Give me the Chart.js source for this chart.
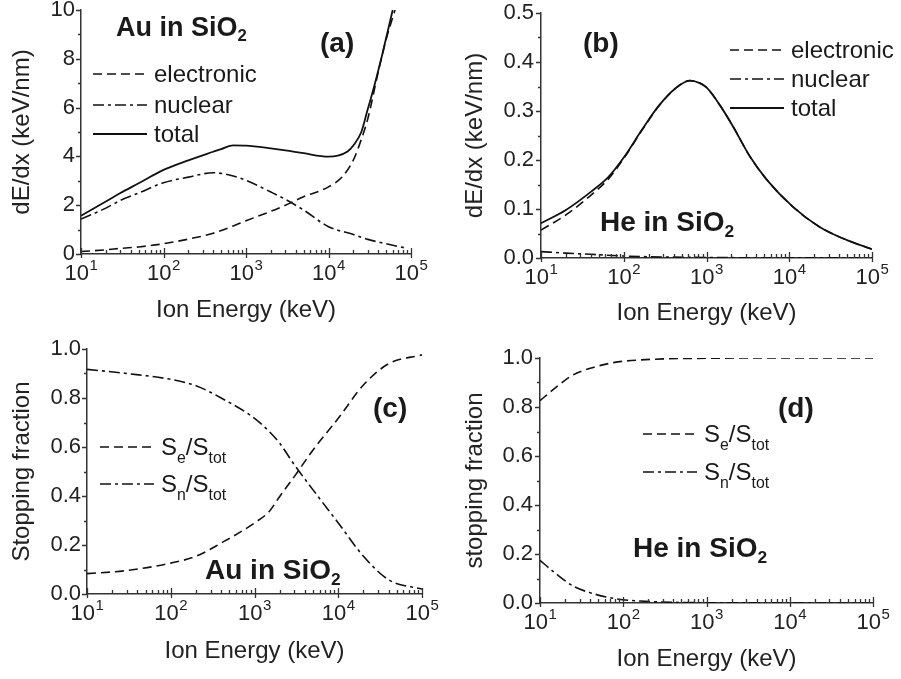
<!DOCTYPE html>
<html>
<head>
<meta charset="utf-8">
<script src="https://cdn.jsdelivr.net/npm/chart.js@4.4.0/dist/chart.umd.min.js"></script>
<style>
  body { margin: 0; background: #fff; }
  #wrap { position: relative; width: 901px; height: 679px; overflow: hidden;
          font-family: "Liberation Sans", Arial, sans-serif; color: #1a1a1a; }
  canvas { position: absolute; }
  .lbl { position: absolute; white-space: nowrap; transform: translateY(-50%); line-height: 1; font-weight: bold; }
  .leg { position: absolute; display: flex; align-items: center; white-space: nowrap; font-size: 24px;
         transform: translateY(-50%); line-height: 1; }
  .leg svg { margin-right: 7px; flex: none; }
  sub { font-size: 62%; vertical-align: -0.32em; line-height: 0; }
  .leg sub { font-size: 66%; vertical-align: -0.5em; }
</style>
</head>
<body>
<div id="wrap">
  <canvas id="chart-a" width="450" height="330" style="left:0;top:0"></canvas>
  <canvas id="chart-b" width="451" height="330" style="left:450px;top:0"></canvas>
  <canvas id="chart-c" width="450" height="349" style="left:0;top:330px"></canvas>
  <canvas id="chart-d" width="451" height="349" style="left:450px;top:330px"></canvas>

  <!-- (a) -->
  <div class="lbl" style="left:116px;top:27px;font-size:27px">Au in SiO<sub>2</sub></div>
  <div class="lbl" style="left:320px;top:43px;font-size:28px">(a)</div>
  <div class="leg" style="left:93px;top:74px"><svg width="54" height="4"><line x1="0" y1="2" x2="54" y2="2" stroke="#111" stroke-width="1.6" stroke-dasharray="9 5"/></svg><span>electronic</span></div>
  <div class="leg" style="left:93px;top:105px"><svg width="54" height="4"><line x1="0" y1="2" x2="54" y2="2" stroke="#111" stroke-width="1.6" stroke-dasharray="11 4 3 4"/></svg><span>nuclear</span></div>
  <div class="leg" style="left:93px;top:134px"><svg width="54" height="4"><line x1="0" y1="2" x2="54" y2="2" stroke="#111" stroke-width="1.8"/></svg><span>total</span></div>

  <!-- (b) -->
  <div class="lbl" style="left:583px;top:43px;font-size:28px">(b)</div>
  <div class="lbl" style="left:600px;top:222px;font-size:28px">He in SiO<sub>2</sub></div>
  <div class="leg" style="left:730px;top:50px"><svg width="54" height="4"><line x1="0" y1="2" x2="54" y2="2" stroke="#111" stroke-width="1.6" stroke-dasharray="9 5"/></svg><span>electronic</span></div>
  <div class="leg" style="left:730px;top:79px"><svg width="54" height="4"><line x1="0" y1="2" x2="54" y2="2" stroke="#111" stroke-width="1.6" stroke-dasharray="11 4 3 4"/></svg><span>nuclear</span></div>
  <div class="leg" style="left:730px;top:108px"><svg width="54" height="4"><line x1="0" y1="2" x2="54" y2="2" stroke="#111" stroke-width="1.8"/></svg><span>total</span></div>

  <!-- (c) -->
  <div class="lbl" style="left:373px;top:408px;font-size:28px">(c)</div>
  <div class="lbl" style="left:205px;top:570px;font-size:28px">Au in SiO<sub>2</sub></div>
  <div class="leg" style="left:100px;top:447px"><svg width="54" height="4"><line x1="0" y1="2" x2="54" y2="2" stroke="#111" stroke-width="1.6" stroke-dasharray="9 5"/></svg><span>S<sub>e</sub>/S<sub>tot</sub></span></div>
  <div class="leg" style="left:100px;top:484px"><svg width="54" height="4"><line x1="0" y1="2" x2="54" y2="2" stroke="#111" stroke-width="1.6" stroke-dasharray="11 4 3 4"/></svg><span>S<sub>n</sub>/S<sub>tot</sub></span></div>

  <!-- (d) -->
  <div class="lbl" style="left:778px;top:408px;font-size:28px">(d)</div>
  <div class="lbl" style="left:633px;top:548px;font-size:28px">He in SiO<sub>2</sub></div>
  <div class="leg" style="left:643px;top:434px"><svg width="54" height="4"><line x1="0" y1="2" x2="54" y2="2" stroke="#111" stroke-width="1.6" stroke-dasharray="9 5"/></svg><span>S<sub>e</sub>/S<sub>tot</sub></span></div>
  <div class="leg" style="left:643px;top:472px"><svg width="54" height="4"><line x1="0" y1="2" x2="54" y2="2" stroke="#111" stroke-width="1.6" stroke-dasharray="11 4 3 4"/></svg><span>S<sub>n</sub>/S<sub>tot</sub></span></div>
</div>

<script>
/* ── data (energies in keV) ── */

// (a) Au in SiO2, dE/dx (keV/nm)
const auElecE = [10, 20, 30, 50, 100, 200, 400, 700, 1000, 2000, 3000, 5000, 10000, 15000, 20000, 25000, 30000, 40000, 50000, 64000];
const auElec  = [0.1, 0.17, 0.23, 0.29, 0.42, 0.61, 0.85, 1.15, 1.36, 1.75, 2.0, 2.35, 2.75, 3.2, 3.85, 4.7, 5.55, 7.45, 8.8, 10.0];
const auNuclE = [10, 20, 30, 50, 100, 200, 400, 700, 1000, 2000, 3000, 5000, 10000, 20000, 30000, 50000, 90000];
const auNucl  = [1.43, 1.88, 2.2, 2.5, 2.92, 3.15, 3.33, 3.2, 3.02, 2.54, 2.24, 1.8, 1.12, 0.8, 0.6, 0.42, 0.23];
const auTotE  = [10, 20, 30, 50, 100, 200, 400, 500, 700, 1000, 2000, 3000, 5000, 10000, 13000, 17000, 20000, 25000, 30000, 35000, 45000, 60000];
const auTot   = [1.57, 2.15, 2.5, 2.9, 3.45, 3.84, 4.19, 4.3, 4.45, 4.44, 4.33, 4.25, 4.13, 3.99, 4.03, 4.2, 4.45, 5.0, 5.95, 6.75, 8.2, 10.0];

// (b) He in SiO2, dE/dx (keV/nm)
const heTotE  = [10, 20, 40, 65, 100, 165, 260, 420, 630, 830, 1000, 1450, 2100, 3350, 5400, 11000, 23000, 49000, 100000];
const heTot   = [0.071, 0.098, 0.135, 0.165, 0.205, 0.261, 0.309, 0.346, 0.362, 0.357, 0.348, 0.312, 0.268, 0.207, 0.159, 0.105, 0.064, 0.037, 0.018];
const heElec  = [0.057, 0.088, 0.128, 0.161, 0.203, 0.26, 0.308, 0.346, 0.362, 0.357, 0.348, 0.312, 0.268, 0.207, 0.159, 0.105, 0.064, 0.037, 0.018];
const heNuclE = [10, 20, 40, 100, 300, 1000, 10000, 100000];
const heNucl  = [0.013, 0.01, 0.0075, 0.004, 0.002, 0.001, 0.0003, 0.0001];

// (c) Au in SiO2, stopping fractions
const auFracE = [10, 30, 100, 200, 400, 1000, 1500, 2000, 3000, 5000, 10000, 20000, 40000, 100000];
const auSe    = [0.083, 0.096, 0.126, 0.154, 0.208, 0.29, 0.337, 0.398, 0.48, 0.588, 0.717, 0.853, 0.94, 0.976];
const auSn    = [0.917, 0.9, 0.876, 0.85, 0.8, 0.717, 0.663, 0.615, 0.527, 0.425, 0.29, 0.154, 0.058, 0.02];

// (d) He in SiO2, stopping fractions
const heFracE = [10, 15, 25, 40, 76, 160, 1000, 10000, 100000];
const heSe    = [0.826, 0.876, 0.931, 0.958, 0.981, 0.992, 0.999, 1.0, 1.0];
const heSn    = [0.174, 0.124, 0.069, 0.042, 0.019, 0.008, 0.001, 0.0003, 0.0001];

// ticks
const xDecades  = [10, 100, 1000, 10000, 100000];
const xExpLabel = ['1', '2', '3', '4', '5'];
const yTicksA   = [0, 2, 4, 6, 8, 10];
const yTicksB   = [0, 0.1, 0.2, 0.3, 0.4, 0.5];
const yTicksCD  = [0, 0.2, 0.4, 0.6, 0.8, 1.0];

const FONT = '"Liberation Sans", Arial, sans-serif';
const INK = '#222';
const DASH = [9, 5];
const DASHDOT = [11, 4, 3, 4];

// minor/major tick marks and 10^n labels, drawn off the chart's own scales
const tickMarks = {
  id: 'tickMarks',
  afterDraw(chart) {
    const { ctx } = chart;
    const xs = chart.scales.x, ys = chart.scales.y;
    const b = ys.bottom, l = xs.left;
    ctx.save();
    ctx.strokeStyle = '#333';
    ctx.lineWidth = 1.3;
    ctx.beginPath();
    xDecades.forEach((d, i) => {
      const px = Math.round(xs.getPixelForValue(d)) + 0.5;
      ctx.moveTo(px, b - 6); ctx.lineTo(px, b + 4);
      if (i < xDecades.length - 1) {
        for (let k = 2; k < 10; k++) {
          const p = Math.round(xs.getPixelForValue(d * k)) + 0.5;
          ctx.moveTo(p, b - 4); ctx.lineTo(p, b);
        }
      }
    });
    const yt = chart.options.plugins.tickMarks.yTicks;
    yt.forEach((v, i) => {
      const py = Math.round(ys.getPixelForValue(v)) + 0.5;
      ctx.moveTo(l - 5, py); ctx.lineTo(l, py);
      if (i < yt.length - 1) {
        const pm = Math.round(ys.getPixelForValue((v + yt[i + 1]) / 2)) + 0.5;
        ctx.moveTo(l - 3, pm); ctx.lineTo(l, pm);
      }
    });
    ctx.stroke();

    // 10^n labels
    ctx.fillStyle = INK;
    ctx.textBaseline = 'middle';
    ctx.textAlign = 'left';
    const yc = b + 20;
    xDecades.forEach((d, i) => {
      const px = xs.getPixelForValue(d);
      ctx.font = '22px ' + FONT;
      const w1 = ctx.measureText('10').width;
      ctx.font = '15px ' + FONT;
      const w2 = ctx.measureText(xExpLabel[i]).width;
      const x0 = px - (w1 + w2) / 2;
      ctx.font = '22px ' + FONT;
      ctx.fillText('10', x0, yc);
      ctx.font = '15px ' + FONT;
      ctx.fillText(xExpLabel[i], x0 + w1 + 0.5, yc - 8);
    });
    ctx.restore();
  }
};

function series(xs, ys, dash, w) {
  return {
    data: xs.map((x, i) => ({ x: x, y: ys[i] })),
    borderColor: '#111',
    borderWidth: w || 1.6,
    borderDash: dash || [],
    pointRadius: 0,
    fill: false,
    cubicInterpolationMode: 'monotone'
  };
}

function panel(id, o) {
  const cv = document.getElementById(id);
  const W = cv.width, H = cv.height;
  const lh = 24 * 1.2;
  return new Chart(cv, {
    type: 'line',
    data: { datasets: o.sets },
    options: {
      responsive: false,
      animation: false,
      events: [],
      layout: { padding: { left: 0, top: o.area.t, right: W - o.area.r, bottom: 0 } },
      plugins: {
        legend: { display: false },
        tooltip: { enabled: false },
        tickMarks: { yTicks: o.yTicks }
      },
      scales: {
        x: {
          type: 'logarithmic', min: 10, max: 100000,
          grid: { display: false, drawTicks: false },
          border: { display: true, color: '#333', width: 1.5 },
          ticks: { display: false },
          title: { display: true, text: 'Ion Energy (keV)', color: INK,
                   font: { size: 24, family: FONT }, padding: { top: 0, bottom: H - o.xTitleY - lh / 2 } },
          afterFit: s => { s.height = H - o.area.b; s.paddingLeft = 0; s.paddingRight = 0; }
        },
        y: {
          type: 'linear', min: o.yTicks[0], max: o.yTicks[o.yTicks.length - 1],
          grid: { display: false, drawTicks: false },
          border: { display: true, color: '#333', width: 1.5 },
          afterBuildTicks: s => { s.ticks = o.yTicks.map(v => ({ value: v })); },
          ticks: { autoSkip: false, color: INK, padding: o.yPad,
                   font: { size: 22, family: FONT },
                   callback: v => v.toFixed(o.dec) },
          title: { display: true, text: o.yTitle, color: INK,
                   font: { size: 24, family: FONT }, padding: { top: o.yTitleX - lh / 2, bottom: 0 } },
          afterFit: s => { s.width = o.area.l; s.paddingTop = 0; s.paddingBottom = 0; }
        }
      }
    },
    plugins: [tickMarks]
  });
}

panel('chart-a', {
  area: { l: 81, r: 411, t: 10, b: 254 },
  yTicks: yTicksA, dec: 0, yPad: 6,
  yTitle: 'dE/dx (keV/nm)', yTitleX: 22, xTitleY: 310,
  sets: [
    series(auElecE, auElec, DASH),
    series(auNuclE, auNucl, DASHDOT),
    series(auTotE, auTot, [], 1.8)
  ]
});

panel('chart-b', {
  area: { l: 91, r: 422, t: 13, b: 258 },
  yTicks: yTicksB, dec: 1, yPad: 7,
  yTitle: 'dE/dx (keV/nm)', yTitleX: 25, xTitleY: 313,
  sets: [
    series(heTotE, heElec, DASH),
    series(heNuclE, heNucl, DASHDOT),
    series(heTotE, heTot, [], 1.8)
  ]
});

panel('chart-c', {
  area: { l: 87, r: 422, t: 19, b: 264 },
  yTicks: yTicksCD, dec: 1, yPad: 6,
  yTitle: 'Stopping fraction', yTitleX: 22, xTitleY: 321,
  sets: [
    series(auFracE, auSe, DASH),
    series(auFracE, auSn, DASHDOT)
  ]
});

panel('chart-d', {
  area: { l: 90, r: 423, t: 28, b: 273 },
  yTicks: yTicksCD, dec: 1, yPad: 7,
  yTitle: 'stopping fraction', yTitleX: 25, xTitleY: 329,
  sets: [
    series(heFracE, heSe, DASH),
    series(heFracE, heSn, DASHDOT)
  ]
});
</script>
</body>
</html>
